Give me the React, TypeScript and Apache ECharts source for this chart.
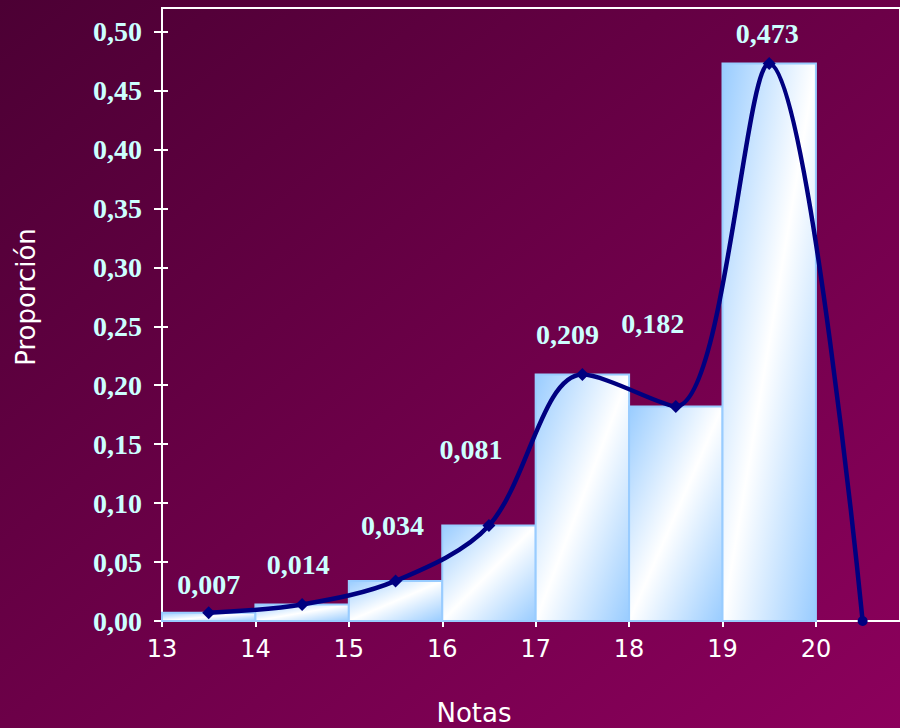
import React, { useEffect, useRef } from "react";
import * as echarts from "echarts";

const BIN_STARTS = [13, 14, 15, 16, 17, 18, 19];
const BIN_ENDS = [14, 15, 16, 17, 18, 19, 20];
const PROPORTIONS = [0.007, 0.014, 0.034, 0.081, 0.209, 0.182, 0.473];
const MIDPOINTS = [13.5, 14.5, 15.5, 16.5, 17.5, 18.5, 19.5, 20.5];
const CURVE_VALUES = [0.007, 0.014, 0.034, 0.081, 0.209, 0.182, 0.473, 0];
const X_TICKS = [13, 14, 15, 16, 17, 18, 19, 20];
const Y_TICKS = [0, 0.05, 0.1, 0.15, 0.2, 0.25, 0.3, 0.35, 0.4, 0.45, 0.5];
// label layout tweaks (pixels), one per labelled point
const LABEL_OFFSETS = [
  [0, -4],
  [-4, -15],
  [-3, -31],
  [-18, -52],
  [-15, -16],
  [-23, -58],
  [-2, -5],
];

const fmt = (v: number, d: number) => v.toFixed(d).replace(".", ",");

export default function App() {
  const ref = useRef<HTMLDivElement>(null);
  useEffect(() => {
    if (!ref.current) return;
    const chart = echarts.init(ref.current, null, { renderer: "svg" });
    const barData = BIN_STARTS.map((s, i) => [s, BIN_ENDS[i], PROPORTIONS[i]]);
    const lineData = MIDPOINTS.map((m, i) => {
      const item: any = { value: [m, CURVE_VALUES[i]] };
      if (i < LABEL_OFFSETS.length) {
        item.label = { show: true, offset: LABEL_OFFSETS[i] };
      } else {
        item.label = { show: false };
        item.symbol = "circle";
        item.symbolSize = 10;
      }
      return item;
    });
    const barFill = new echarts.graphic.LinearGradient(0, 0, 1, 1, [
      { offset: 0, color: "#99CCFF" },
      { offset: 0.5, color: "#FFFFFF" },
      { offset: 1, color: "#99CCFF" },
    ]);
    chart.setOption({
      animation: false,
      backgroundColor: new echarts.graphic.LinearGradient(0, 0, 1, 1, [
        { offset: 0, color: "#4C0034" },
        { offset: 1, color: "#8C005C" },
      ]),
      grid: {
        left: 162,
        top: 8,
        right: 0,
        height: 613,
        show: true,
        borderColor: "#FFFFFF",
        borderWidth: 2,
        backgroundColor: "transparent",
      },
      xAxis: {
        type: "value",
        min: 13,
        max: 20.9,
        interval: 1,
        splitLine: { show: false },
        axisLine: { show: true, lineStyle: { color: "#FFFFFF", width: 2 } },
        axisTick: { show: true, length: 6, customValues: X_TICKS, lineStyle: { color: "#FFFFFF", width: 2 } },
        axisLabel: {
          customValues: X_TICKS,
          color: "#FFFFFF",
          fontFamily: "DejaVu Sans",
          fontSize: 24,
          margin: 16,
        },
      },
      yAxis: [
        {
          type: "value",
          min: 0,
          max: 0.52,
          splitLine: { show: false },
          axisLine: { show: true, lineStyle: { color: "#FFFFFF", width: 2 } },
          axisTick: { show: true, length: 8, customValues: Y_TICKS, lineStyle: { color: "#FFFFFF", width: 2 } },
          axisLabel: {
            customValues: Y_TICKS,
            formatter: (v: number) => fmt(v, 2),
            color: "#CCFFFF",
            fontFamily: "Liberation Serif",
            fontWeight: "bold",
            fontSize: 28,
            margin: 20,
          },
        },
        {
          type: "value",
          position: "left",
          min: 0,
          max: 0.52,
          splitLine: { show: false },
          axisLine: { show: false },
          axisTick: { show: true, inside: true, length: 6, customValues: Y_TICKS, lineStyle: { color: "#FFFFFF", width: 2 } },
          axisLabel: { show: false },
        },
      ],
      series: [
        {
          type: "custom",
          z: 2,
          encode: { x: [0, 1], y: 2 },
          data: barData,
          renderItem: (params: any, api: any) => {
            const p0 = api.coord([api.value(0), api.value(2)]);
            const p1 = api.coord([api.value(1), 0]);
            return {
              type: "rect",
              shape: { x: p0[0], y: p0[1], width: p1[0] - p0[0], height: p1[1] - p0[1] },
              style: { fill: barFill, stroke: "#99CCFF", lineWidth: 2 },
            };
          },
        },
        {
          type: "line",
          z: 3,
          data: lineData,
          smooth: 0.33,
          symbol: "diamond",
          symbolSize: 13,
          lineStyle: { color: "#000080", width: 4.5 },
          itemStyle: { color: "#000080" },
          label: {
            show: true,
            position: "top",
            distance: 4,
            formatter: (p: any) => fmt(p.value[1], 3),
            color: "#CCFFFF",
            fontFamily: "Liberation Serif",
            fontWeight: "bold",
            fontSize: 28,
          },
        },
      ],
      graphic: [
        {
          type: "text",
          x: 26,
          y: 297,
          rotation: Math.PI / 2,
          style: {
            text: "Proporción",
            fill: "#FFFFFF",
            font: "26px 'DejaVu Sans'",
            align: "center",
            verticalAlign: "middle",
          },
        },
        {
          type: "text",
          x: 474,
          y: 713,
          style: {
            text: "Notas",
            fill: "#FFFFFF",
            font: "26px 'DejaVu Sans'",
            align: "center",
            verticalAlign: "middle",
          },
        },
      ],
    });
    return () => chart.dispose();
  }, []);
  return (
    <div
      ref={ref}
      style={{ position: "fixed", left: 0, top: 0, width: 900, height: 728 }}
    />
  );
}
